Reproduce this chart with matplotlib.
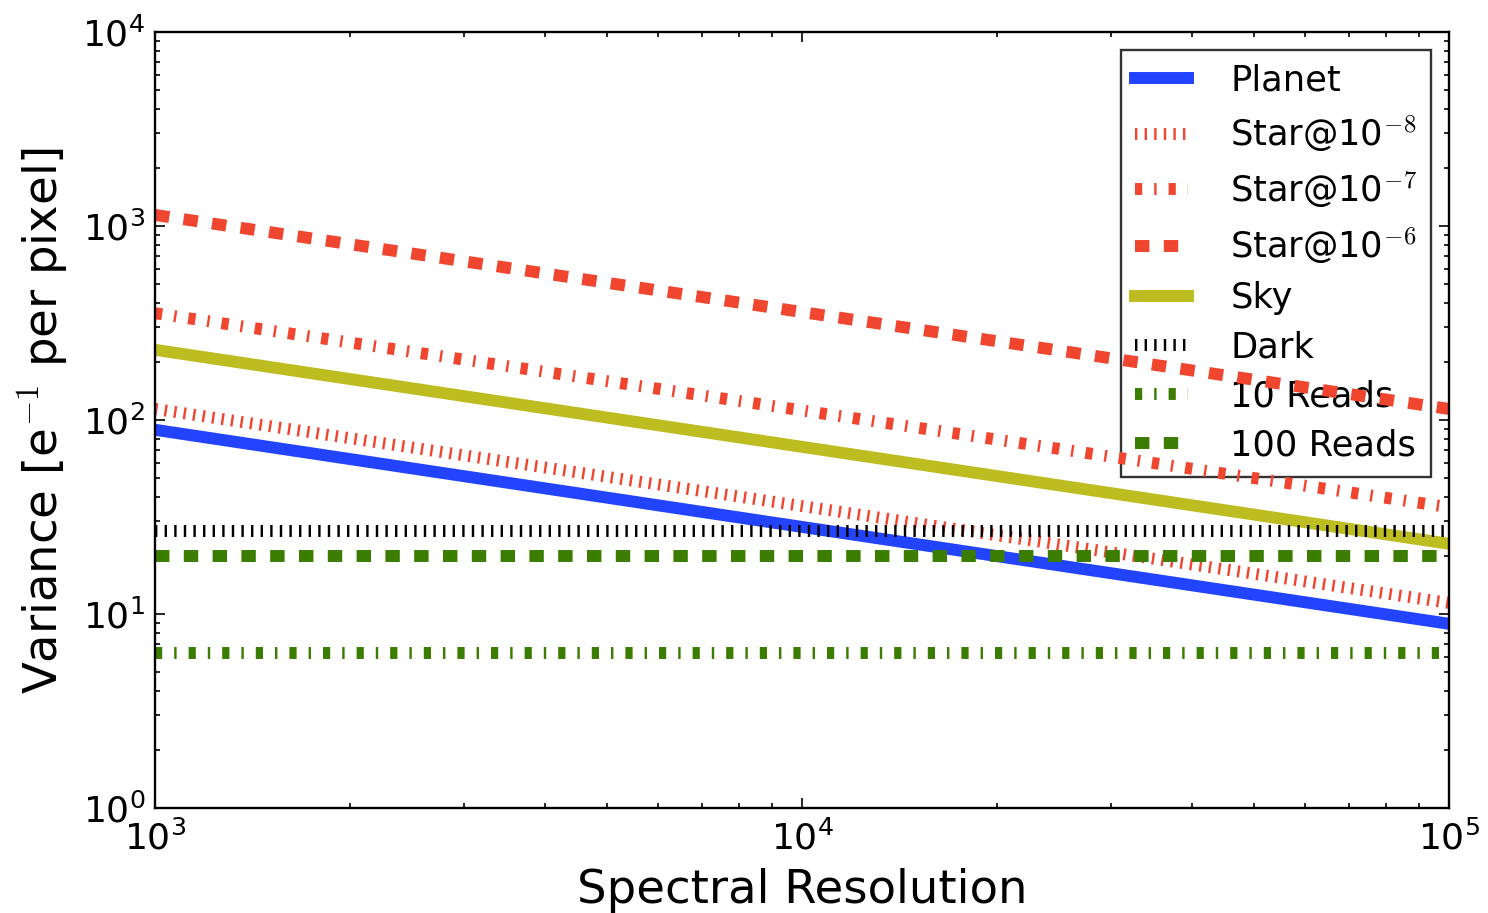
import numpy as np
import matplotlib
matplotlib.use("Agg")
import matplotlib.pyplot as plt

plt.rcParams['mathtext.fontset'] = 'cm'
plt.rcParams['lines.scale_dashes'] = False

# Resolution grid and variances
resolution = [1e3, 1e4, 1e5]
planet = [89, 28.1, 8.9]
star_1e8 = [114, 36, 11.4]
star_1e7 = [355, 112, 35.5]
star_1e6 = [1140, 360, 114]
sky = [230, 72.7, 23]
dark = [26.8, 26.8, 26.8]
reads_10 = [6.3, 6.3, 6.3]
reads_100 = [20, 20, 20]

labels = ['Planet', r'Star@10$^{-8}$', r'Star@10$^{-7}$', r'Star@10$^{-6}$',
          'Sky', 'Dark', '10 Reads', '100 Reads']

u = 1.728  # dash unit in points
dotted = (0, (u, 3 * u))
dashdot = (0, (3 * u, 5 * u, u, 5 * u))
dashed = (0, (6 * u, 6 * u))
lw = 8.6

blue = '#2244FF'
red = '#F04630'
olive = '#BDBD22'
green = '#3A7D00'

fig = plt.figure(figsize=(14.88, 9.13), dpi=100)
ax = fig.add_axes([0.1042, 0.115, 0.8696, 0.85])

ax.plot(resolution, planet, color=blue, lw=lw, label=labels[0])
ax.plot(resolution, star_1e8, color=red, lw=lw, linestyle=dotted, label=labels[1])
ax.plot(resolution, star_1e7, color=red, lw=lw, linestyle=dashdot, label=labels[2])
ax.plot(resolution, star_1e6, color=red, lw=lw, linestyle=dashed, label=labels[3])
ax.plot(resolution, sky, color=olive, lw=lw, label=labels[4])
ax.plot(resolution, dark, color='black', lw=lw, linestyle=dotted, label=labels[5])
ax.plot(resolution, reads_10, color=green, lw=lw, linestyle=dashdot, label=labels[6])
ax.plot(resolution, reads_100, color=green, lw=lw, linestyle=dashed, label=labels[7])

ax.set_xscale('log')
ax.set_yscale('log')
ax.set_xlim(1e3, 1e5)
ax.set_ylim(1, 1e4)

ax.set_xlabel('Spectral Resolution', fontsize=33.5, labelpad=8)
ax.set_ylabel(r'Variance [e$^{-1}$ per pixel]', fontsize=33.5, labelpad=8)
ax.tick_params(which='both', direction='in', top=True, right=True, labelsize=26)
ax.tick_params(which='major', length=7, width=1.2)
ax.tick_params(which='minor', length=3.5, width=1.2)
ax.tick_params(axis='x', which='major', pad=9)
ax.tick_params(axis='y', which='major', pad=7)
for s in ax.spines.values():
    s.set_linewidth(1.7)

leg = ax.legend(loc='upper right', fontsize=25.4, fancybox=False,
                facecolor='none', edgecolor='black', handlelength=1.5,
                handletextpad=1.2, labelspacing=0.43, borderaxespad=0.5)
leg.get_frame().set_linewidth(1.7)
leg.set_zorder(1)

fig.savefig('out.png', dpi=100)
